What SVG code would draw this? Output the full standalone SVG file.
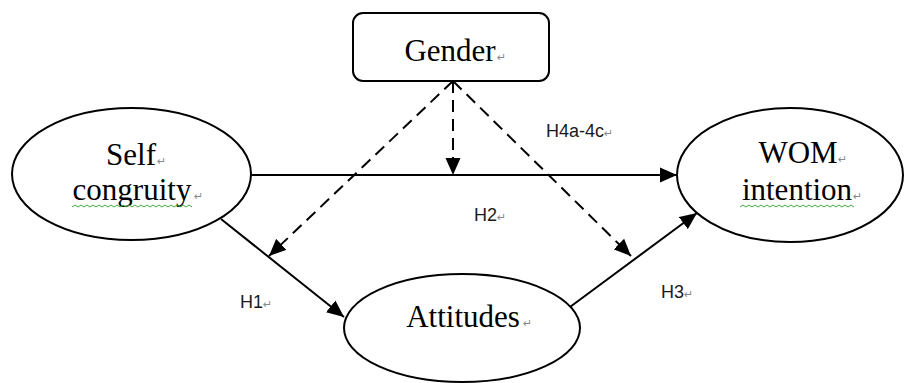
<svg xmlns="http://www.w3.org/2000/svg" width="906" height="383" viewBox="0 0 906 383">
<defs>
<style>
.node{fill:#fff;stroke:#000;stroke-width:2}
.lbl{font-family:"Liberation Serif","Times New Roman",serif;font-size:31px;fill:#000;text-anchor:middle}
.h{font-family:"Liberation Sans",Arial,sans-serif;font-size:18px;fill:#1a1a1a}
.pm{font-family:"DejaVu Sans",sans-serif;font-size:11px;fill:#888}
.ln{fill:none;stroke:#000;stroke-width:2}
.dash{stroke-dasharray:12 7}
.wave{fill:none;stroke:#3bab3b;stroke-width:1}
</style>
<marker id="arr" markerUnits="userSpaceOnUse" markerWidth="18" markerHeight="16" refX="17" refY="8" orient="auto">
<path d="M0,0.5 L17,8 L0,15.5 Z" fill="#000"/>
</marker>
</defs>
<g id="connectors">
<line class="ln" x1="251" y1="175" x2="677" y2="175" marker-end="url(#arr)"/>
<line class="ln" x1="221" y1="219" x2="344" y2="317" marker-end="url(#arr)"/>
<line class="ln" x1="570" y1="307" x2="697" y2="213" marker-end="url(#arr)"/>
<line class="ln dash" x1="453" y1="81" x2="453" y2="175" marker-end="url(#arr)"/>
<line class="ln dash" x1="453" y1="81" x2="269" y2="256" marker-end="url(#arr)"/>
<line class="ln dash" x1="453" y1="81" x2="631" y2="256" marker-end="url(#arr)"/>
</g>
<g id="gender">
<rect class="node" x="353" y="13" width="196" height="68" rx="10"/>
<text class="lbl" x="450" y="61">Gender</text>
<text class="pm" x="497" y="61">↵</text>
</g>
<g id="self-congruity">
<ellipse class="node" cx="131.5" cy="174" rx="119.5" ry="66"/>
<text class="lbl" x="131" y="165">Self</text>
<text class="pm" x="157" y="165">↵</text>
<text class="lbl" x="132" y="200">congruity</text>
<text class="pm" x="194" y="200">↵</text>
<path class="wave" d="M72,207 l3,-2 l3,2 l3,-2 l3,2 l3,-2 l3,2 l3,-2 l3,2 l3,-2 l3,2 l3,-2 l3,2 l3,-2 l3,2 l3,-2 l3,2 l3,-2 l3,2 l3,-2 l3,2 l3,-2 l3,2 l3,-2 l3,2 l3,-2 l3,2 l3,-2 l3,2 l3,-2 l3,2 l3,-2 l3,2 l3,-2 l3,2 l3,-2 l3,2 l3,-2 l3,2 l3,-2 l3,2"/>
</g>
<g id="wom-intention">
<ellipse class="node" cx="790" cy="175" rx="113" ry="67"/>
<text class="lbl" x="798" y="163">WOM</text>
<text class="pm" x="838" y="163">↵</text>
<text class="lbl" x="797" y="200">intention</text>
<text class="pm" x="853" y="200">↵</text>
<path class="wave" d="M740,207 l3,-2 l3,2 l3,-2 l3,2 l3,-2 l3,2 l3,-2 l3,2 l3,-2 l3,2 l3,-2 l3,2 l3,-2 l3,2 l3,-2 l3,2 l3,-2 l3,2 l3,-2 l3,2 l3,-2 l3,2 l3,-2 l3,2 l3,-2 l3,2 l3,-2 l3,2 l3,-2 l3,2 l3,-2 l3,2 l3,-2 l3,2 l3,-2 l3,2 l3,-2 l3,2"/>
</g>
<g id="attitudes">
<ellipse class="node" cx="462" cy="328" rx="118" ry="54"/>
<text class="lbl" x="463" y="327">Attitudes</text>
<text class="pm" x="523" y="327">↵</text>
</g>
<g id="labels">
<text class="h" x="546" y="137">H4a-4c<tspan class="pm">↵</tspan></text>
<text class="h" x="474" y="221">H2<tspan class="pm">↵</tspan></text>
<text class="h" x="661" y="298">H3<tspan class="pm">↵</tspan></text>
<text class="h" x="240" y="308">H1<tspan class="pm">↵</tspan></text>
</g>
</svg>
